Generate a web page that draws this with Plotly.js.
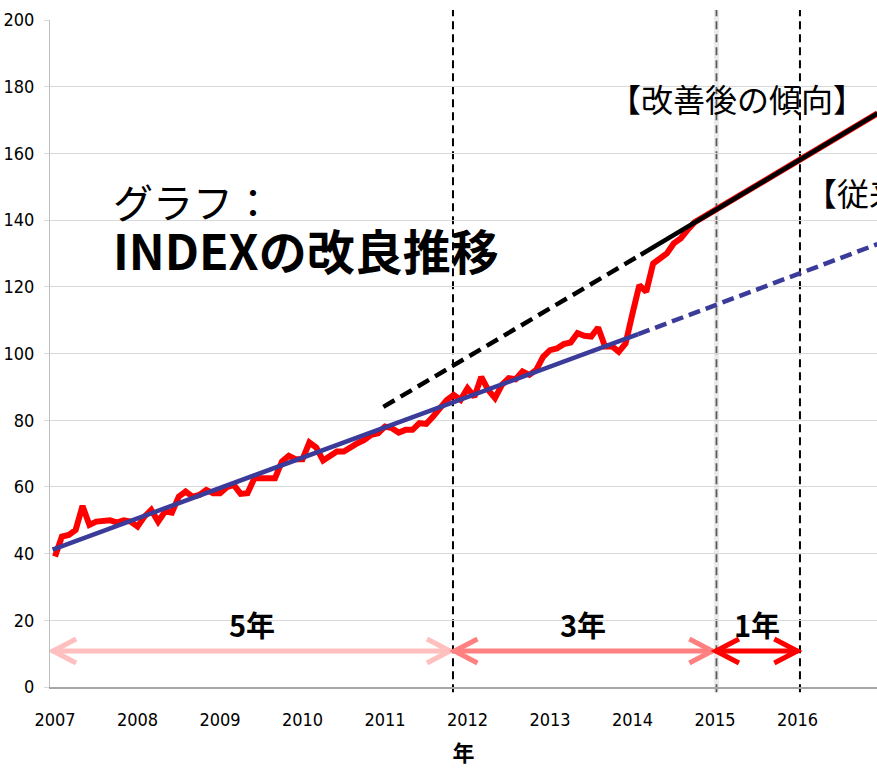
<!DOCTYPE html>
<html>
<head>
<meta charset="utf-8">
<script src="https://cdn.plot.ly/plotly-3.0.1.min.js"></script>
<style>
html,body{margin:0;padding:0;overflow:hidden;background:#fff;}
#chart{width:877px;height:769px;}
</style>
</head>
<body>
<div id="chart"></div>
<script>
// ---- data ----
const startYear = 2007;
// monthly INDEX values (Jan 2007 .. Sep 2014)
const indexValues = [
  39.1, 45.1, 45.6, 47.1, 54.3, 48.6, 49.6, 49.6, 50.0, 49.3, 50.0, 49.6,
  48.1, 51.1, 53.1, 49.6, 52.6, 52.3, 57.1, 58.6, 57.1, 57.6, 59.1, 58.1,
  58.1, 59.9, 60.6, 57.9, 58.1, 62.6, 62.6, 62.6, 62.6, 67.6, 69.3, 68.3,
  68.3, 73.3, 71.8, 67.9, 69.1, 70.6, 70.6, 72.1, 73.1, 74.1, 75.6, 76.1,
  78.1, 77.6, 76.3, 77.1, 77.1, 79.1, 78.9, 81.1, 83.6, 86.1, 87.6, 86.1,
  89.6, 87.0, 93.0, 89.1, 86.6, 90.6, 92.6, 92.3, 94.6, 93.6, 95.1, 99.0,
  101.0, 101.5, 102.8, 103.3, 106.1, 105.3, 105.1, 107.8, 102.1, 102.2, 100.5, 103.0,
  112.0, 120.5, 118.5, 127.0, 128.5, 130.0, 133.0, 134.5, 137.0
];
// continuation of INDEX along improved trend
const indexExtX = [2014.75, 2015.75, 2016.97];
const indexExtY = [139.3, 154.0, 172.0];

// previous trend (blue)
const oldTrendSolidX = [2006.97, 2014.07];
const oldTrendSolidY = [41.2, 105.8];
const oldTrendDashX = [2014.07, 2016.97];
const oldTrendDashY = [105.8, 132.8];

// improved trend (black)
const newTrendDashX = [2010.98, 2014.1];
const newTrendDashY = [84.0, 129.6];
const newTrendSolidX = [2014.1, 2016.97];
const newTrendSolidY = [129.6, 172.0];

// tick labels
const yearTicks = [2007, 2008, 2009, 2010, 2011, 2012, 2013, 2014, 2015, 2016];
const yearTickText = ['2007','2008','2009','2010','2011','2012','2013','2014','2015','2016'];

// periods
const periodStart = [2006.965, 2011.83, 2015.0];
const periodEnd = [2011.80, 2014.98, 2016.01];
const periodLabels = ['5年', '3年', '1年'];
const periodColors = ['#ffbfbf', '#ff8080', '#ff0000'];
const periodY = 10.8;
const periodLabelY = 19.0;

// boundaries
const boundaryX = [2011.824, 2015.018, 2016.03];

// ---- build ----
const indexX = indexValues.map((v, i) => startYear + i / 12);
const redX = indexX.concat(indexExtX);
const redY = indexValues.concat(indexExtY);

const narrow = 'DejaVu Sans Condensed, Liberation Sans Narrow, Arial Narrow, sans-serif';
const cjk = 'Noto Sans CJK JP, Noto Sans, sans-serif';

const traces = [
  {x: redX, y: redY, type: 'scatter', mode: 'lines',
   line: {color: '#ff0000', width: 6, shape: 'linear'}, hoverinfo: 'skip'},
  {x: oldTrendSolidX, y: oldTrendSolidY, type: 'scatter', mode: 'lines',
   line: {color: '#3b3b9a', width: 4.5}, hoverinfo: 'skip'},
  {x: oldTrendDashX, y: oldTrendDashY, type: 'scatter', mode: 'lines',
   line: {color: '#3b3b9a', width: 4.5, dash: '12px,6px'}, hoverinfo: 'skip'},
  {x: newTrendDashX, y: newTrendDashY, type: 'scatter', mode: 'lines',
   line: {color: '#000000', width: 4.5, dash: '13px,7px'}, hoverinfo: 'skip'},
  {x: newTrendSolidX, y: newTrendSolidY, type: 'scatter', mode: 'lines',
   line: {color: '#000000', width: 4.5}, hoverinfo: 'skip'}
];

const shapes = [];
// boundary lines
boundaryX.forEach((bx, i) => {
  if (i === 1) {
    shapes.push({type: 'line', xref: 'x', yref: 'paper', x0: bx, x1: bx, y0: -0.008, y1: 1.015,
      layer: 'below', line: {color: 'rgba(215,215,215,0.5)', width: 5}});
    shapes.push({type: 'line', xref: 'x', yref: 'paper', x0: bx, x1: bx, y0: -0.008, y1: 1.015,
      layer: 'below', line: {color: '#5a5a5a', width: 1.8, dash: '8px,5px'}});
  } else {
    shapes.push({type: 'line', xref: 'x', yref: 'paper', x0: bx, x1: bx, y0: -0.008, y1: 1.015,
      layer: 'below', line: {color: '#000000', width: 2, dash: '8px,5px'}});
  }
});
// period arrows
const annotations = [];
periodStart.forEach((s, i) => {
  const e = periodEnd[i];
  const c = periodColors[i];
  shapes.push({type: 'line', xref: 'x', yref: 'y', x0: s, x1: e, y0: periodY, y1: periodY,
    line: {color: c, width: 5}});
  shapes.push({type: 'path', xref: 'x', yref: 'y', xsizemode: 'pixel', ysizemode: 'pixel',
    xanchor: s, yanchor: periodY, path: 'M 24 12 L 1 0 L 24 -12',
    line: {color: c, width: 5}});
  shapes.push({type: 'path', xref: 'x', yref: 'y', xsizemode: 'pixel', ysizemode: 'pixel',
    xanchor: e, yanchor: periodY, path: 'M -24 12 L -1 0 L -24 -12',
    line: {color: c, width: 5}});
  annotations.push({x: (s + e) / 2, y: periodLabelY, xref: 'x', yref: 'y', showarrow: false,
    text: periodLabels[i], font: {family: cjk, size: 29, weight: 700, color: '#000'},
    xanchor: 'center', yanchor: 'middle'});
});

annotations.push({x: 2007.68, y: 137.7, xref: 'x', yref: 'y', showarrow: false,
  text: 'グラフ：<br><b><span style="font-size:48px">INDEXの改良推移</span></b>',
  xanchor: 'left', yanchor: 'middle', align: 'left',
  font: {family: cjk, size: 40, color: '#000'}});
annotations.push({x: 2015.267, y: 176.6, xref: 'x', yref: 'y', showarrow: false,
  text: '【改善後の傾向】', xanchor: 'center', yanchor: 'middle',
  font: {family: cjk, size: 32, color: '#000'}});
annotations.push({x: 2016.067, y: 148.4, xref: 'x', yref: 'y', showarrow: false,
  text: '【従来の傾向】', xanchor: 'left', yanchor: 'middle',
  font: {family: cjk, size: 32, color: '#000'}});

const layout = {
  width: 877, height: 769,
  margin: {l: 50, r: 0, t: 20, b: 82, pad: 0},
  paper_bgcolor: '#ffffff', plot_bgcolor: '#ffffff',
  showlegend: false,
  xaxis: {
    range: [2006.939, 2016.964],
    tickvals: yearTicks, ticktext: yearTickText,
    showgrid: false, zeroline: false,
    showline: true, linecolor: '#a6a6a6', linewidth: 1.5,
    ticks: '', ticklabelstandoff: 16,
    tickfont: {family: narrow, size: 18, color: '#000'},
    title: {text: '年', standoff: 16, font: {family: cjk, size: 22, weight: 700, color: '#000'}}
  },
  yaxis: {
    range: [0, 200], dtick: 20, tick0: 0,
    showgrid: true, gridcolor: '#d9d9d9', gridwidth: 1,
    zeroline: false, showline: true, linecolor: '#bfbfbf', linewidth: 1,
    ticks: 'outside', ticklen: 5, tickcolor: '#d9d9d9',
    ticklabelstandoff: 6,
    tickfont: {family: narrow, size: 18, color: '#000'}
  },
  shapes: shapes,
  annotations: annotations
};

Plotly.newPlot('chart', traces, layout, {displayModeBar: false, staticPlot: true});
</script>
</body>
</html>
